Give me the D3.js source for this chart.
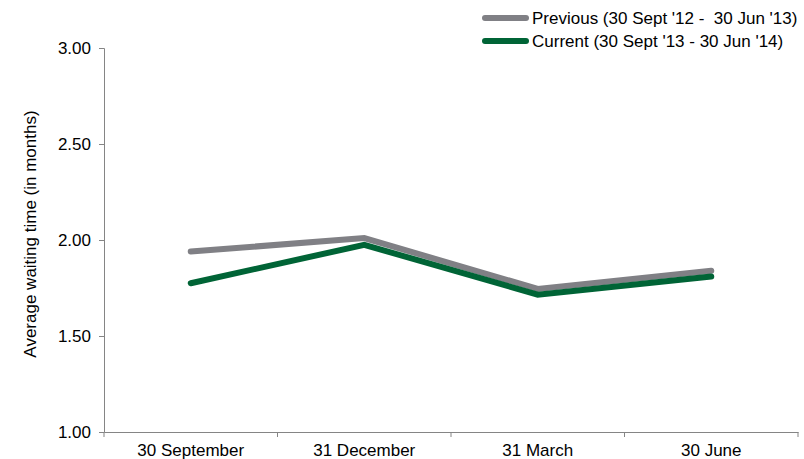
<!DOCTYPE html>
<html>
<head>
<meta charset="utf-8">
<script src="https://cdn.jsdelivr.net/npm/d3@7"></script>
<style>
  html, body { margin: 0; padding: 0; background: #fff; }
  svg { display: block; font-family: "Liberation Sans", Arial, sans-serif; }
</style>
</head>
<body>
<svg id="chart" width="804" height="459"></svg>
<script>
// Quarter-end dates on the x axis
const categories = ["30 September", "31 December", "31 March", "30 June"];
// Average waiting time, in months
const previousValues = [1.94, 2.01, 1.745, 1.84];
const currentValues = [1.775, 1.975, 1.715, 1.81];
const yTicks = [1.00, 1.50, 2.00, 2.50, 3.00];
const seriesNames = ["Previous (30 Sept '12 -  30 Jun '13)", "Current (30 Sept '13 - 30 Jun '14)"];
const seriesColors = ["#808085", "#006436"];

const svg = d3.select("#chart");
const plotLeft = 104, plotRight = 798, plotTop = 48, plotBottom = 432;
const fontSize = 17;

const x = d3.scaleBand().domain(categories).range([plotLeft, plotRight]).padding(0);
const y = d3.scaleLinear().domain([1, 3]).range([plotBottom, plotTop]);
const axisColor = "#858585";

// Y axis
const yAxis = svg.append("g")
  .attr("transform", `translate(${plotLeft},0)`)
  .call(d3.axisLeft(y).tickValues(yTicks).tickFormat(d3.format(".2f")).tickSize(5).tickPadding(8));
yAxis.select(".domain").attr("stroke", axisColor);
yAxis.selectAll(".tick line").attr("stroke", axisColor);
yAxis.selectAll(".tick text").attr("font-size", fontSize).attr("fill", "#000")
  .attr("font-family", "Liberation Sans, Arial, sans-serif");

// X axis with ticks at the category boundaries
const xAxis = svg.append("g")
  .attr("transform", `translate(0,${plotBottom})`)
  .call(d3.axisBottom(x).tickSize(0).tickPadding(12));
xAxis.select(".domain").attr("stroke", axisColor);
xAxis.selectAll(".tick text").attr("font-size", fontSize).attr("fill", "#000")
  .attr("font-family", "Liberation Sans, Arial, sans-serif");
const bounds = categories.map(c => x(c)).concat([x.range()[1]]);
svg.append("g").selectAll("line").data(bounds).join("line")
  .attr("x1", d => d).attr("x2", d => d)
  .attr("y1", plotBottom).attr("y2", plotBottom + 5)
  .attr("stroke", axisColor);

// Y axis title
svg.append("text")
  .attr("transform", `translate(36,234) rotate(-90)`)
  .attr("text-anchor", "middle")
  .attr("font-size", fontSize)
  .text("Average waiting time (in months)");

// Series lines
const line = d3.line()
  .x((d, i) => x(categories[i]) + x.bandwidth() / 2)
  .y(d => y(d));
[previousValues, currentValues].forEach((vals, i) => {
  svg.append("path")
    .datum(vals)
    .attr("d", line)
    .attr("fill", "none")
    .attr("stroke", seriesColors[i])
    .attr("stroke-width", 6)
    .attr("stroke-linejoin", "miter")
    .attr("stroke-linecap", "round");
});

// Legend
const legend = svg.append("g");
seriesNames.forEach((name, i) => {
  const ly = 18 + i * 23;
  legend.append("line")
    .attr("x1", 485).attr("x2", 526)
    .attr("y1", ly).attr("y2", ly)
    .attr("stroke", seriesColors[i])
    .attr("stroke-width", 6)
    .attr("stroke-linecap", "round");
  legend.append("text")
    .attr("x", 532).attr("y", ly)
    .attr("dy", "0.35em")
    .attr("font-size", fontSize)
    .style("white-space", "pre")
    .text(name);
});
</script>
</body>
</html>
